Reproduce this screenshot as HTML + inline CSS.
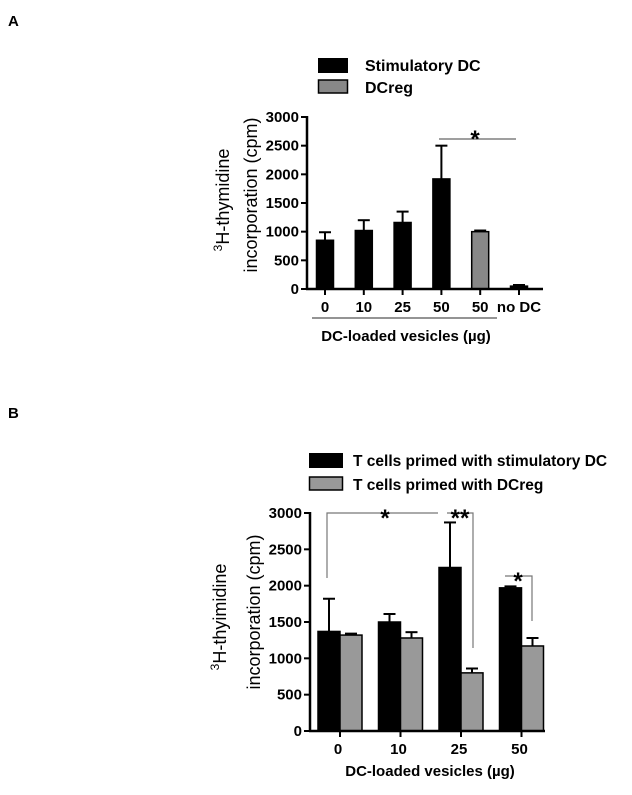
<!DOCTYPE html>
<html><head><meta charset="utf-8"><style>
body{margin:0;background:#fff;width:632px;height:790px;overflow:hidden}
svg{font-family:"Liberation Sans",Arial,sans-serif}
text{font-weight:bold}
</style></head><body>
<svg width="632" height="790" id="fig">
<text x="8" y="26" font-size="15">A</text>
<text x="8" y="418" font-size="15">B</text>
</svg>
<script>
const NS="http://www.w3.org/2000/svg";const svg=document.getElementById('fig');
function mk(t,a,p){const e=document.createElementNS(NS,t);for(const k in a)e.setAttribute(k,a[k]);(p||svg).appendChild(e);return e;}
// Panel A data
const catsA=["0","10","25","50","50","no DC"];
const valsA=[850,1020,1160,1920,1000,50];
const errA=[140,180,190,580,20,20];
const colorA=["#000","#000","#000","#000","#888","#000"];
const ticksA=[0,500,1000,1500,2000,2500,3000];
// Panel B data
const catsB=["0","10","25","50"];
const stimB=[1370,1500,2250,1970];
const stimErrB=[450,110,620,20];
const regB=[1320,1280,800,1170];
const regErrB=[20,80,60,110];
const ticksB=[0,500,1000,1500,2000,2500,3000];

function axisY(y0,y3000){return v=>y0-(y0-y3000)*v/3000;}
// ---- Panel A
const yA=axisY(289,117);const xA=i=>325+i*38.8;const gA=mk('g',{});

valsA.forEach((v,i)=>{const x=xA(i),w=17;
 const b=mk('rect',{x:x-w/2,y:yA(v),width:w,height:289-yA(v),fill:colorA[i],stroke:'#000','stroke-width':1.5},gA);
 
 mk('line',{x1:x,x2:x,y1:yA(v),y2:yA(v+errA[i]),stroke:'#000','stroke-width':2},gA);
 mk('line',{x1:x-6,x2:x+6,y1:yA(v+errA[i]),y2:yA(v+errA[i]),stroke:'#000','stroke-width':2},gA);
 mk('line',{x1:x,x2:x,y1:289,y2:295,stroke:'#000','stroke-width':2},gA);
 const t=mk('text',{x:x,y:312,'font-size':15,'text-anchor':'middle'},gA);t.textContent=catsA[i];
 });
mk('line',{x1:307,x2:307,y1:116,y2:290,stroke:'#000','stroke-width':2.5},gA);
mk('line',{x1:306,x2:543,y1:289,y2:289,stroke:'#000','stroke-width':2.5},gA);
ticksA.forEach(v=>{mk('line',{x1:301,x2:307,y1:yA(v),y2:yA(v),stroke:'#000','stroke-width':2},gA);
 const t=mk('text',{x:299,y:yA(v)+5,'font-size':15,'text-anchor':'end'},gA);t.textContent=v;
 });
mk('line',{x1:312,x2:497,y1:318,y2:318,stroke:'#555','stroke-width':1.2},gA);
let t=mk('text',{x:406,y:341,'font-size':15,'text-anchor':'middle'},gA);t.textContent='DC-loaded vesicles (µg)';

t=mk('text',{transform:'translate(229,200) rotate(-90)','font-size':18,'text-anchor':'middle',style:'font-weight:normal'},gA);
t.innerHTML='<tspan font-size="12" dy="-7">3</tspan><tspan dy="7">H-thymidine</tspan>';

t=mk('text',{transform:'translate(257,195) rotate(-90)','font-size':18,'text-anchor':'middle',style:'font-weight:normal'},gA);t.textContent='incorporation (cpm)';
mk('line',{x1:439,x2:516,y1:139,y2:139,stroke:'#666','stroke-width':1.2},gA);
t=mk('text',{x:475,y:147,'font-size':24,'text-anchor':'middle'},gA);t.textContent='*';
mk('rect',{x:318,y:58,width:30,height:15,fill:'#000'},gA);
mk('rect',{x:318.5,y:80,width:29,height:13,fill:'#888',stroke:'#000','stroke-width':1.5},gA);
t=mk('text',{x:365,y:71,'font-size':16},gA);t.textContent='Stimulatory DC';
t=mk('text',{x:365,y:93,'font-size':16},gA);t.textContent='DCreg';
// ---- Panel B
const yB=axisY(731,513);const xB=i=>340+i*60.5;const gB=mk('g',{});

function barB(x,v,e,fill,name){const w=22;
 const b=mk('rect',{x:x-w/2,y:yB(v),width:w,height:731-yB(v),fill:fill,stroke:'#000','stroke-width':1.5},gB);
 
 mk('line',{x1:x,x2:x,y1:yB(v),y2:yB(v+e),stroke:'#000','stroke-width':2},gB);
 mk('line',{x1:x-6,x2:x+6,y1:yB(v+e),y2:yB(v+e),stroke:'#000','stroke-width':2},gB);}
catsB.forEach((c,i)=>{const x=xB(i);
 barB(x-11,stimB[i],stimErrB[i],'#000','bar-b-stim-'+i);
 barB(x+11,regB[i],regErrB[i],'#999','bar-b-dcreg-'+i);
 mk('line',{x1:x,x2:x,y1:731,y2:737,stroke:'#000','stroke-width':2},gB);
 const t=mk('text',{x:x-2,y:754,'font-size':15,'text-anchor':'middle'},gB);t.textContent=c;
 });
mk('line',{x1:310,x2:310,y1:512,y2:732,stroke:'#000','stroke-width':2.5},gB);
mk('line',{x1:309,x2:545,y1:731,y2:731,stroke:'#000','stroke-width':2.5},gB);
ticksB.forEach(v=>{mk('line',{x1:304,x2:310,y1:yB(v),y2:yB(v),stroke:'#000','stroke-width':2},gB);
 const t=mk('text',{x:302,y:yB(v)+5,'font-size':15,'text-anchor':'end'},gB);t.textContent=v;
 });
t=mk('text',{x:430,y:776,'font-size':15,'text-anchor':'middle'},gB);t.textContent='DC-loaded vesicles (µg)';

t=mk('text',{transform:'translate(226,617) rotate(-90)','font-size':18,'text-anchor':'middle',style:'font-weight:normal'},gB);
t.innerHTML='<tspan font-size="12" dy="-7">3</tspan><tspan dy="7">H-thyimidine</tspan>';

t=mk('text',{transform:'translate(260,612) rotate(-90)','font-size':18,'text-anchor':'middle',style:'font-weight:normal'},gB);t.textContent='incorporation (cpm)';
const s={stroke:'#777','stroke-width':1.2,fill:'none'};
mk('polyline',Object.assign({points:'327,578 327,513 438,513'},s),gB);
mk('polyline',Object.assign({points:'447,513 473,513 473,648'},s),gB);
mk('polyline',Object.assign({points:'505,576 532,576 532,621'},s),gB);
t=mk('text',{x:385,y:526,'font-size':24,'text-anchor':'middle'},gB);t.textContent='*';
t=mk('text',{x:460,y:526,'font-size':24,'text-anchor':'middle'},gB);t.textContent='**';
t=mk('text',{x:518,y:589,'font-size':24,'text-anchor':'middle'},gB);t.textContent='*';
mk('rect',{x:309,y:453,width:34,height:15,fill:'#000'},gB);
mk('rect',{x:309.5,y:477,width:33,height:13,fill:'#999',stroke:'#000','stroke-width':1.5},gB);
t=mk('text',{x:353,y:466,'font-size':15.5},gB);t.textContent='T cells primed with stimulatory DC';
t=mk('text',{x:353,y:490,'font-size':15.5},gB);t.textContent='T cells primed with DCreg';
</script>
</body></html>
